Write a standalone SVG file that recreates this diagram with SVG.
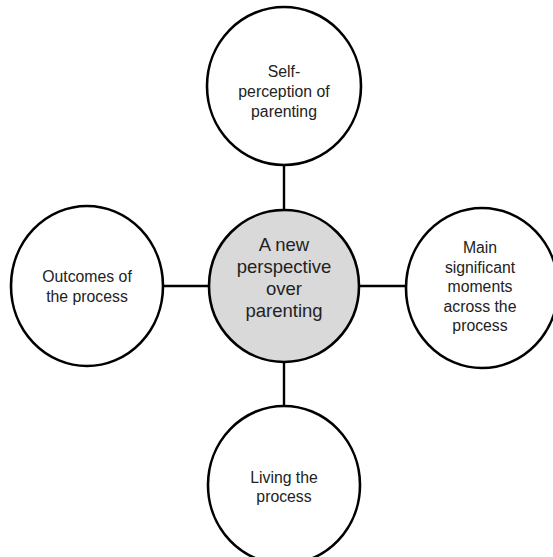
<svg xmlns="http://www.w3.org/2000/svg" width="553" height="557" viewBox="0 0 553 557">
<style>
.c{fill:#fff;stroke:#000;stroke-width:2.6}
.m{fill:#d9d9d9;stroke:#000;stroke-width:2.6}
.l{stroke:#000;stroke-width:2.4;fill:none}
text{font-family:"Liberation Sans",Arial,sans-serif;font-size:15.8px;fill:#222;text-anchor:middle}
.big{font-size:18.5px}
</style>
<rect width="553" height="557" fill="#fff"/>
<g id="connectors">
<line class="l" x1="284" y1="165" x2="284" y2="210"/>
<line class="l" x1="284" y1="362" x2="284" y2="406"/>
<line class="l" x1="163" y1="286" x2="209" y2="286"/>
<line class="l" x1="359" y1="286" x2="406" y2="286"/>
</g>
<g id="n-top">
<ellipse class="c" cx="284" cy="86" rx="77" ry="79"/>
<text x="284" y="77">Self-</text>
<text x="284" y="97">perception of</text>
<text x="284" y="117">parenting</text>
</g>
<g id="n-center">
<ellipse class="m" cx="284" cy="286" rx="75" ry="76"/>
<text class="big" x="284" y="251">A new</text>
<text class="big" x="284" y="273">perspective</text>
<text class="big" x="284" y="295">over</text>
<text class="big" x="284" y="317">parenting</text>
</g>
<g id="n-left">
<ellipse class="c" cx="87" cy="286" rx="76" ry="80"/>
<text x="87" y="282">Outcomes of</text>
<text x="87" y="302">the process</text>
</g>
<g id="n-right">
<ellipse class="c" cx="482" cy="288" rx="76" ry="80"/>
<text x="480" y="253">Main</text>
<text x="480" y="273">significant</text>
<text x="480" y="292">moments</text>
<text x="480" y="312">across the</text>
<text x="480" y="331">process</text>
</g>
<g id="n-bottom">
<ellipse class="c" cx="284" cy="485" rx="76" ry="79"/>
<text x="284" y="483">Living the</text>
<text x="284" y="502">process</text>
</g>
</svg>
